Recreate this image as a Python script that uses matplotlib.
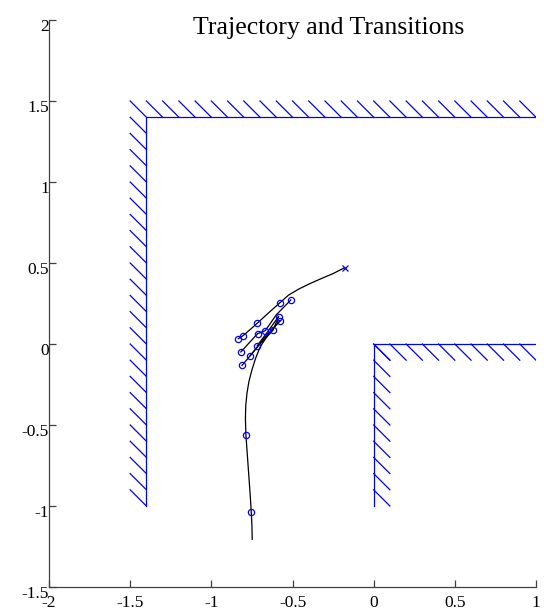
import matplotlib
matplotlib.use("Agg")
import matplotlib.pyplot as plt
import matplotlib.transforms as mtransforms
import numpy as np

# Walls (polylines)
outer_wall_x = [-1.4, -1.4, 1.0]
outer_wall_y = [-1.0, 1.4, 1.4]
inner_wall_x = [0.0, 0.0, 1.0]
inner_wall_y = [-1.0, 0.0, 0.0]

# hatch anchor points on walls
outer_vert_hatch_y = [-1.0, -0.9, -0.8, -0.7, -0.6, -0.5, -0.4, -0.3, -0.2, -0.1, 0.0,
                      0.1, 0.2, 0.3, 0.4, 0.5, 0.6, 0.7, 0.8, 0.9, 1.0, 1.1, 1.2, 1.3]
outer_horz_hatch_x = [-1.4, -1.3, -1.2, -1.1, -1.0, -0.9, -0.8, -0.7, -0.6, -0.5, -0.4,
                      -0.3, -0.2, -0.1, 0.0, 0.1, 0.2, 0.3, 0.4, 0.5, 0.6, 0.7, 0.8, 0.9, 1.0]
inner_vert_hatch_y = [0.0, -0.1, -0.2, -0.3, -0.4, -0.5, -0.6, -0.7, -0.8, -0.9]
inner_horz_hatch_x = [0.0, 0.1, 0.2, 0.3, 0.4, 0.5, 0.6, 0.7, 0.8, 0.9]
hatch_len = 0.1

# Main trajectory
traj_x = [-0.748, -0.750, -0.754, -0.760, -0.770, -0.787, -0.790, -0.788, -0.780, -0.768,
          -0.750, -0.728, -0.700, -0.665, -0.630, -0.600, -0.575]
traj_y = [-1.206, -1.120, -1.039, -0.940, -0.800, -0.562, -0.460, -0.380, -0.300, -0.230,
          -0.160, -0.090, -0.020, 0.035, 0.080, 0.120, 0.144]
top_x = [-0.834, -0.805, -0.760, -0.717, -0.650, -0.577, -0.524, -0.460, -0.390, -0.320,
         -0.247, -0.179]
top_y = [0.033, 0.051, 0.090, 0.128, 0.190, 0.255, 0.302, 0.340, 0.374, 0.405,
         0.436, 0.471]

# Transition segments (each a small polyline)
trans_x = [[-0.811, -0.760, -0.700, -0.620, -0.586],
           [-0.818, -0.715, -0.668, -0.600, -0.510],
           [-0.717, -0.650, -0.586],
           [-0.760, -0.680, -0.575]]
trans_y = [[-0.132, -0.072, 0.000, 0.085, 0.169],
           [-0.049, 0.064, 0.082, 0.180, 0.272],
           [-0.010, 0.080, 0.169],
           [-0.072, 0.030, 0.144]]

# Positions (circles) and end point (cross)
circ_x = [-0.754, -0.787, -0.510, -0.577, -0.717, -0.805, -0.834, -0.586, -0.575, -0.620,
          -0.668, -0.715, -0.818, -0.760, -0.717, -0.811]
circ_y = [-1.039, -0.562, 0.272, 0.255, 0.128, 0.051, 0.033, 0.169, 0.144, 0.085,
          0.082, 0.064, -0.049, -0.072, -0.010, -0.132]
end_x = [-0.179]
end_y = [0.471]

xticks = [-2, -1.5, -1, -0.5, 0, 0.5, 1]
xticklabels = ['-2', '-1.5', '-1', '-0.5', '0', '0.5', '1']
yticks = [-1.5, -1, -0.5, 0, 0.5, 1, 1.5, 2]
yticklabels = ['-1.5', '-1', '-0.5', '0', '0.5', '1', '1.5', '2']
title = 'Trajectory and Transitions'

plt.rcParams['font.family'] = ['Liberation Serif', 'DejaVu Serif']

fig = plt.figure(figsize=(5.47, 6.12), dpi=100)
ax = fig.add_axes([49/547, 25/612, 487/547, 567/612])

blue = '#0000ff'
wlw = 0.9
ax.plot(outer_wall_x, outer_wall_y, color=blue, lw=wlw)
ax.plot(inner_wall_x, inner_wall_y, color=blue, lw=wlw)
for y in outer_vert_hatch_y:
    ax.plot([-1.4 - hatch_len, -1.4], [y + hatch_len, y], color=blue, lw=wlw)
for x in outer_horz_hatch_x:
    ax.plot([x - hatch_len, x], [1.4 + hatch_len, 1.4], color=blue, lw=wlw)
for y in inner_vert_hatch_y:
    ax.plot([0.0, hatch_len], [y, y - hatch_len], color=blue, lw=wlw)
for x in inner_horz_hatch_x:
    ax.plot([x, x + hatch_len], [0.0, -hatch_len], color=blue, lw=wlw)

ax.plot(traj_x, traj_y, color='black', lw=0.9)
ax.plot(top_x, top_y, color='black', lw=0.9)
for tx, ty in zip(trans_x, trans_y):
    ax.plot(tx, ty, color='black', lw=0.9)

ax.plot(circ_x, circ_y, linestyle='none', marker='o', markersize=4.5,
        markerfacecolor='none', markeredgecolor=blue, markeredgewidth=0.9)
ax.plot(end_x, end_y, linestyle='none', marker='x', markersize=4.5,
        color=blue, markeredgewidth=0.9)

ax.set_xlim(-2, 1)
ax.set_ylim(-1.5, 2)
ax.set_xticks(xticks)
ax.set_xticklabels(xticklabels)
ax.set_yticks(yticks)
ax.set_yticklabels(yticklabels)

for s in ['top', 'right']:
    ax.spines[s].set_visible(False)
for s in ['left', 'bottom']:
    ax.spines[s].set_color('#404040')
    ax.spines[s].set_linewidth(0.9)
ax.tick_params(direction='in', length=5, width=0.9, color='#404040',
               labelsize=12.5, labelcolor='black')
ax.tick_params(axis='y', pad=0)
ax.tick_params(axis='x', pad=5.5)

# shift y tick labels slightly down (as in the reference)
off = mtransforms.ScaledTranslation(0, -5/100, fig.dpi_scale_trans)
for lab in ax.get_yticklabels():
    lab.set_transform(lab.get_transform() + off)

fig.text(329/547, 1 - 28/612, title, fontsize=18.5, ha='center', va='center')

fig.savefig('out.png', dpi=100)
